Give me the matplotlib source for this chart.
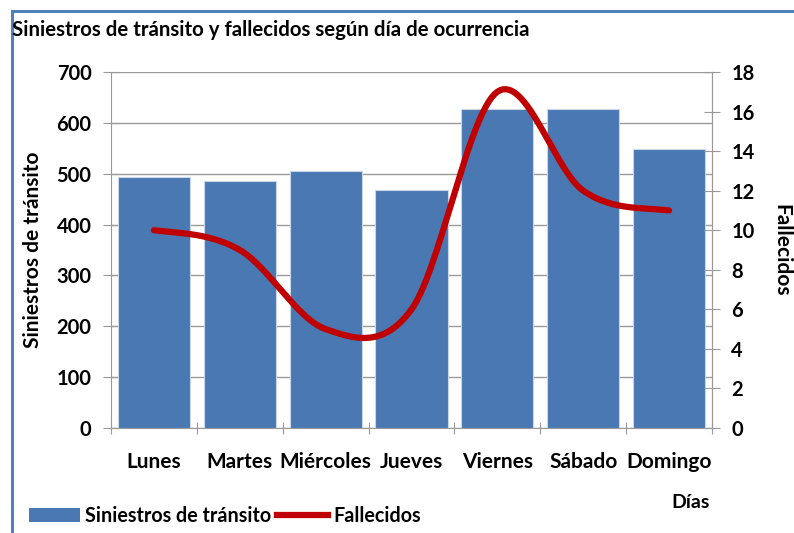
import numpy as np
import matplotlib
matplotlib.use("Agg")
import matplotlib.pyplot as plt
from matplotlib.lines import Line2D
from matplotlib.patches import Patch

plt.rcParams['font.family'] = ['Lato', 'DejaVu Sans']
plt.rcParams['font.weight'] = 'bold'

# data
dias = ['Lunes', 'Martes', 'Miércoles', 'Jueves', 'Viernes', 'Sábado', 'Domingo']
siniestros = [493, 486, 505, 467, 627, 627, 549]
fallecidos = [10, 9, 5, 6, 17, 12, 11]

bar_color = '#4a78b3'
line_color = '#c00000'
grid_color = '#9a9a9a'


def smooth(x, y, n=30):
    # catmull-rom style smoothing like the spreadsheet "smoothed line"
    x = np.asarray(x, float)
    y = np.asarray(y, float)
    xs, ys = [], []
    for i in range(len(x) - 1):
        p0 = y[i - 1] if i > 0 else y[i]
        p3 = y[i + 2] if i + 2 < len(y) else y[i + 1]
        m1 = (y[i + 1] - p0) / 2
        m2 = (p3 - y[i]) / 2
        t = np.linspace(0, 1, n)
        h00 = 2 * t**3 - 3 * t**2 + 1
        h10 = t**3 - 2 * t**2 + t
        h01 = -2 * t**3 + 3 * t**2
        h11 = t**3 - t**2
        xs.append(x[i] + t * (x[i + 1] - x[i]))
        ys.append(h00 * y[i] + h10 * m1 + h01 * y[i + 1] + h11 * m2)
    return np.concatenate(xs), np.concatenate(ys)


fig = plt.figure(figsize=(7.94, 5.33), dpi=100)
ax = fig.add_axes([111 / 794, 105 / 533, 601 / 794, 356 / 533])
ax2 = ax.twinx()

x = np.arange(len(dias))
ax.bar(x, siniestros, width=0.84, color=bar_color, edgecolor='#c9d6e8', linewidth=0.8, zorder=3)
ax.set_xlim(-0.5, len(dias) - 0.5)
ax.set_ylim(0, 700)
ax.set_yticks(np.arange(0, 701, 100))
ax.grid(axis='y', color=grid_color, linewidth=1, zorder=0)
ax.set_axisbelow(True)

ax.set_xticks(np.arange(-0.5, len(dias), 1))
ax.set_xticklabels([])
ax.set_xticks(x, minor=True)
ax.set_xticklabels(dias, minor=True, fontsize=15, fontweight='bold')
ax.tick_params(axis='x', which='major', direction='inout', length=9, color=grid_color)
ax.tick_params(axis='x', which='minor', length=0, pad=17)
ax.tick_params(axis='y', direction='inout', length=12, color=grid_color, labelsize=14.5, pad=8)

sx, sy = smooth(x, fallecidos)
ax2.plot(sx, sy, color=line_color, linewidth=4.5, solid_capstyle='round', zorder=5)
ax2.set_ylim(0, 18)
ax2.set_yticks(np.arange(0, 19, 2))
ax2.tick_params(axis='y', direction='inout', length=12, color=grid_color, labelsize=14.5, pad=8)

for a in (ax, ax2):
    for s in a.spines.values():
        s.set_color(grid_color)
    a.spines['top'].set_visible(False)
ax2.spines['left'].set_visible(False)
ax2.spines['bottom'].set_visible(False)

ax.set_ylabel('Siniestros de tránsito', fontsize=15, fontweight='bold', labelpad=10)
ax2.set_ylabel('Fallecidos', fontsize=15, fontweight='bold', rotation=-90, labelpad=26)
fig.text(691 / 794, 1 - 503 / 533, 'Días', fontsize=14, fontweight='bold', ha='center', va='center')

fig.text(12 / 794, 1 - 30 / 533, 'Siniestros de tránsito y fallecidos según día de ocurrencia',
         fontsize=14.7, fontweight='bold', ha='left', va='center')

handles = [Patch(facecolor=bar_color, label='Siniestros de tránsito'),
           Line2D([0], [0], color=line_color, linewidth=4.5, label='Fallecidos')]
fig.legend(handles=handles, loc='lower left', bbox_to_anchor=(17 / 794, -5 / 533), ncol=2,
           frameon=False, fontsize=14.2, handlelength=2.6, handletextpad=0.25, columnspacing=0.3,
           borderaxespad=0.2)

# partial frame around chart
fig.add_artist(Line2D([12 / 794, 1], [1 - 11 / 533, 1 - 11 / 533], color='#4f81bd', linewidth=2.2,
                      transform=fig.transFigure))
fig.add_artist(Line2D([12 / 794, 12 / 794], [0, 1 - 11 / 533], color='#4f81bd', linewidth=2.2,
                      transform=fig.transFigure))

fig.savefig('out.png', dpi=100)
